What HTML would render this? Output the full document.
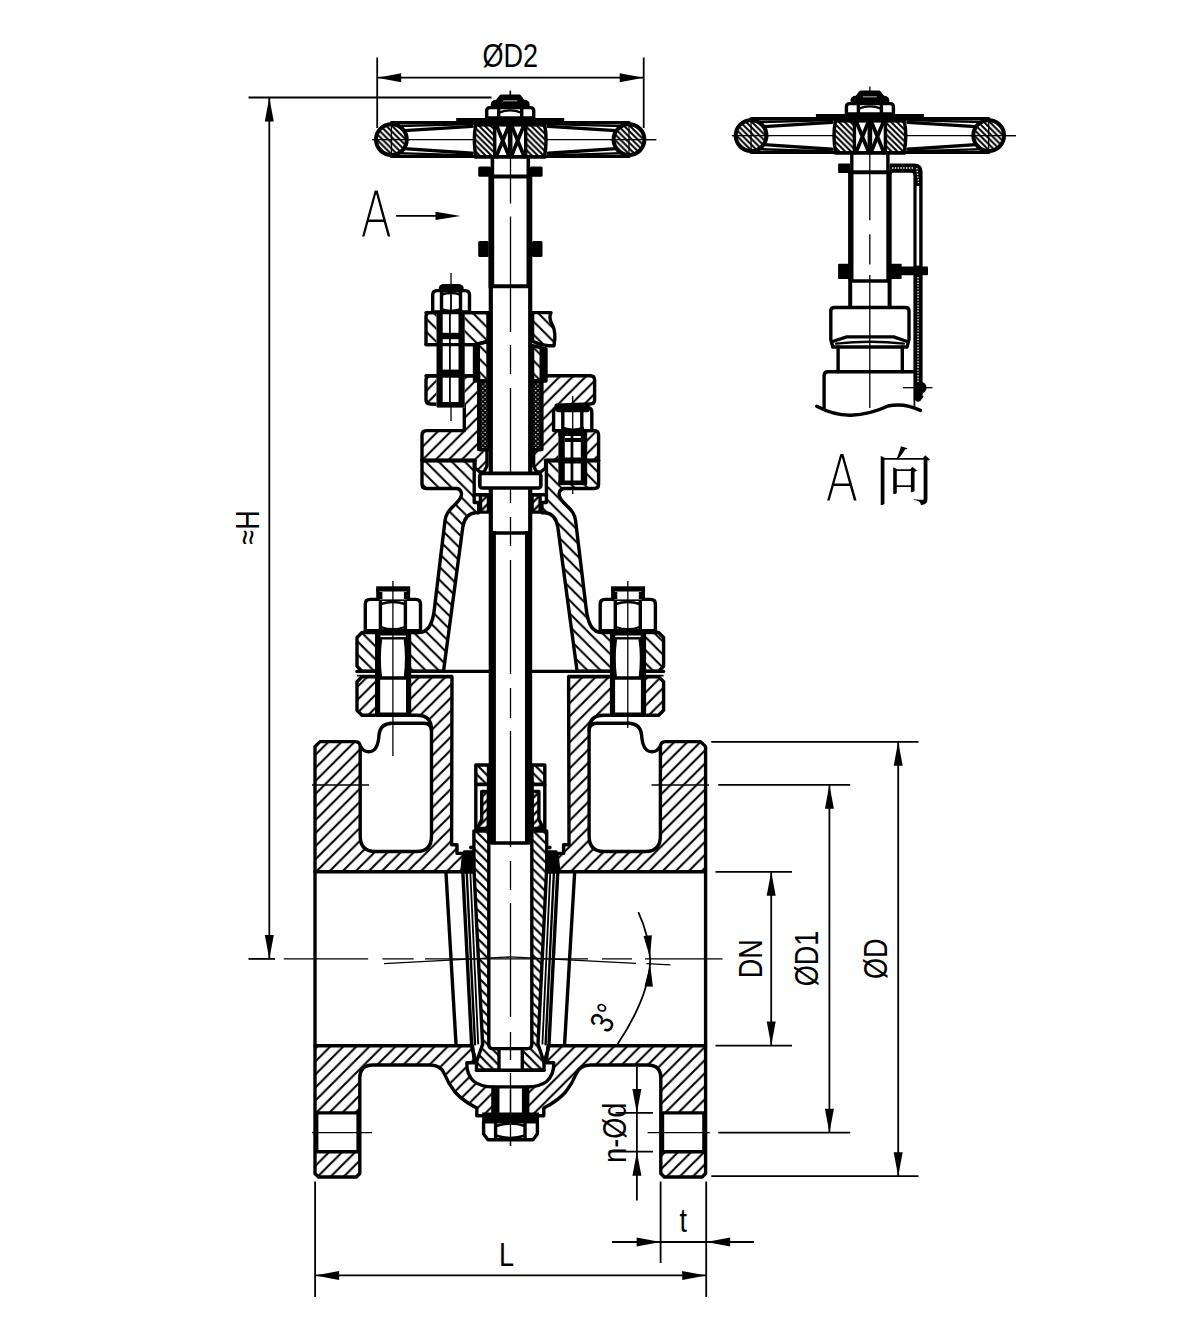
<!DOCTYPE html>
<html><head><meta charset="utf-8"><title>Gate valve drawing</title>
<style>
html,body{margin:0;padding:0;background:#fff;}
svg{display:block}
.k{stroke:#000;stroke-width:3.4;fill:none;stroke-linejoin:round;stroke-linecap:round}
.m{stroke:#000;stroke-width:2.4;fill:none;stroke-linejoin:round;stroke-linecap:round}
.t{stroke:#000;stroke-width:1.8;fill:none;stroke-linecap:butt}
.c{stroke:#000;stroke-width:1.3;fill:none}
.b{stroke:#000;stroke-width:3.4;fill:#000;stroke-linejoin:round}
text{fill:#000}
</style></head><body>
<svg width="1196" height="1319" viewBox="0 0 1196 1319">
<defs>
<pattern id="hF" patternUnits="userSpaceOnUse" width="13.05" height="13.05" patternTransform="translate(0.2,0)">
<path d="M-1,14.05 L14.05,-1 M-1,1 L1,-1 M12.05,14.05 L14.05,12.05" stroke="#000" stroke-width="1.8" fill="none"/></pattern>
<pattern id="hB" patternUnits="userSpaceOnUse" width="13.05" height="13.05" patternTransform="translate(3.2,0)">
<path d="M-1,-1 L14.05,14.05 M-1,12.05 L1,14.05 M12.05,-1 L14.05,1" stroke="#000" stroke-width="2.1" fill="none"/></pattern>
<pattern id="hBf" patternUnits="userSpaceOnUse" width="9.6" height="9.6">
<path d="M-1,-1 L10.6,10.6 M-1,8.6 L1,10.6 M8.6,-1 L10.6,1" stroke="#000" stroke-width="2.2" fill="none"/></pattern>
<pattern id="hFf" patternUnits="userSpaceOnUse" width="8.7" height="8.7">
<path d="M-1,9.7 L9.7,-1 M-1,1 L1,-1 M7.7,9.7 L9.7,7.7" stroke="#000" stroke-width="2.3" fill="none"/></pattern>
<pattern id="hW" patternUnits="userSpaceOnUse" width="5.8" height="5.8">
<path d="M-1,-1 L6.8,6.8 M-1,4.8 L1,6.8 M4.8,-1 L6.8,1" stroke="#000" stroke-width="2.0" fill="none"/></pattern>
<pattern id="dots" patternUnits="userSpaceOnUse" width="4.4" height="4.4">
<rect width="4.4" height="4.4" fill="#000"/><circle cx="1.1" cy="1.1" r="0.75" fill="#fff"/><circle cx="3.3" cy="3.3" r="0.75" fill="#fff"/></pattern>
</defs>
<defs><pattern id="h0" patternUnits="userSpaceOnUse" width="13.05" height="13.05" patternTransform="translate(0.2,0)"><path d="M-1,14.05 L14.05,-1 M-1,1 L1,-1 M12.05,14.05 L14.05,12.05" stroke="#000" stroke-width="2.1" fill="none"/></pattern><pattern id="h1" patternUnits="userSpaceOnUse" width="13.05" height="13.05" patternTransform="translate(6.9,0)"><path d="M-1,14.05 L14.05,-1 M-1,1 L1,-1 M12.05,14.05 L14.05,12.05" stroke="#000" stroke-width="2.1" fill="none"/></pattern><pattern id="h2" patternUnits="userSpaceOnUse" width="13.05" height="13.05" patternTransform="translate(6.55,0)"><path d="M-1,14.05 L14.05,-1 M-1,1 L1,-1 M12.05,14.05 L14.05,12.05" stroke="#000" stroke-width="2.1" fill="none"/></pattern><pattern id="h3" patternUnits="userSpaceOnUse" width="13.05" height="13.05" patternTransform="translate(3.2,0)"><path d="M-1,14.05 L14.05,-1 M-1,1 L1,-1 M12.05,14.05 L14.05,12.05" stroke="#000" stroke-width="2.1" fill="none"/></pattern><pattern id="h4" patternUnits="userSpaceOnUse" width="13.05" height="13.05" patternTransform="translate(3.2,0)"><path d="M-1,-1 L14.05,14.05 M-1,12.05 L1,14.05 M12.05,-1 L14.05,1" stroke="#000" stroke-width="2.1" fill="none"/></pattern><pattern id="h5" patternUnits="userSpaceOnUse" width="13.05" height="13.05" patternTransform="translate(8.4,0)"><path d="M-1,-1 L14.05,14.05 M-1,12.05 L1,14.05 M12.05,-1 L14.05,1" stroke="#000" stroke-width="2.1" fill="none"/></pattern><pattern id="h6" patternUnits="userSpaceOnUse" width="13.05" height="13.05" patternTransform="translate(8.0,0)"><path d="M-1,14.05 L14.05,-1 M-1,1 L1,-1 M12.05,14.05 L14.05,12.05" stroke="#000" stroke-width="2.1" fill="none"/></pattern><pattern id="h7" patternUnits="userSpaceOnUse" width="13.05" height="13.05" patternTransform="translate(9.7,0)"><path d="M-1,14.05 L14.05,-1 M-1,1 L1,-1 M12.05,14.05 L14.05,12.05" stroke="#000" stroke-width="2.1" fill="none"/></pattern></defs>
<rect width="1196" height="1319" fill="#fff"/>
<path class="k" style="fill:url(#h0)" d="M452 676.7 L362 676.7 L357 681.7 L357 710.3 L362 715.3 L417 715.3 Q431.5 715.3 431.5 730 L431.5 836 Q431.5 851.5 417 851.5 L375 851.5 Q360.2 851.5 360.2 836 L360.2 747 Q360.2 741.6 355 741.6 L320 741.6 L315 746.6 L315 871.8 L462 871.8 L463.6 853.4 L457 853.4 L457 844.7 L451.6 844.7 Z" />
<path class="k" style="fill:url(#h1)" d="M 568.6 676.7 L 658.6 676.7 L 663.6 681.7 L 663.6 710.3 L 658.6 715.3 L 603.6 715.3 Q 589.1 715.3 589.1 730 L 589.1 836 Q 589.1 851.5 603.6 851.5 L 645.6 851.5 Q 660.4 851.5 660.4 836 L 660.4 747 Q 660.4 741.6 665.6 741.6 L 700.6 741.6 L 705.6 746.6 L 705.6 871.8 L 558.6 871.8 L 557 853.4 L 563.6 853.4 L 563.6 844.7 L 569 844.7 Z" />
<path class="k" d="M431.5 731 Q431.5 723.2 424 723.2 L391 723.2 Q380 724 379 735 Q378 751.5 369 751.8 Q363.5 751.8 361 747" />
<path class="k" d="M 589.1 731 Q 589.1 723.2 596.6 723.2 L 629.6 723.2 Q 640.6 724 641.6 735 Q 642.6 751.5 651.6 751.8 Q 657.1 751.8 659.6 747" />
<path class="k" style="fill:url(#h2)" d="M315 1045.7 L472.5 1045.7 L474.5 1062.8 L466.8 1062.8 Q466.5 1075 474 1081.5 Q481 1086.9 492.9 1086.9 L492.9 1115.7 L476.8 1115.7 L476.8 1108 Q463 1101 455 1092 Q448 1083 444.5 1074 Q441 1065 430 1065 L373 1065 Q359.8 1065 359.8 1078 L359.8 1173.5 L356.3 1177 L318.5 1177 L315 1173.5 Z" />
<path class="k" style="fill:url(#h3)" d="M 705.6 1045.7 L 548.1 1045.7 L 546.1 1062.8 L 553.8 1062.8 Q 554.1 1075 546.6 1081.5 Q 539.6 1086.9 527.7 1086.9 L 527.7 1115.7 L 543.8 1115.7 L 543.8 1108 Q 557.6 1101 565.6 1092 Q 572.6 1083 576.1 1074 Q 579.6 1065 590.6 1065 L 647.6 1065 Q 660.8 1065 660.8 1078 L 660.8 1173.5 L 664.3 1177 L 702.1 1177 L 705.6 1173.5 Z" />
<rect class="k" style="fill:#fff" x="316.7" y="1112.9" width="41.4" height="38.8"/>
<rect class="k" style="fill:#fff" x="662.50" y="1112.9" width="41.4" height="38.8"/>
<rect x="316.7" y="1110" width="41.4" height="3" fill="#fff" opacity="0"/>
<line class="k" x1="315" y1="871.8" x2="315" y2="1045.7"/>
<line class="k" x1="705.60" y1="871.8" x2="705.60" y2="1045.7"/>
<line class="c" x1="312" y1="785" x2="369" y2="785"/>
<line class="c" x1="651.5" y1="785" x2="709" y2="785"/>
<line class="c" x1="312" y1="1132.6" x2="372" y2="1132.6"/>
<line class="c" x1="647.6" y1="1132.6" x2="709.8" y2="1132.6"/>
<path class="k" style="fill:url(#h4)" d="M443.5 671.2 L362 671.2 L357 666.2 L357 637.5 L362 632.5 L419 632.5 Q432.3 632.5 434.6 607 L445 520.7 C446 513.5 449 510.5 453 506.5 C458 501.5 462.8 497 461.2 492.2 Q460 488.5 456.5 488.5 L426.2 488.5 Q422 488.5 422 484 L422 460.5 L474.2 460.5 L474.2 502.5 L478.7 502.5 L478.7 512.7 L475.5 512.7 Q465 513.5 462.8 527 Z" />
<path class="k" style="fill:url(#h5)" d="M 577.1 671.2 L 658.6 671.2 L 663.6 666.2 L 663.6 637.5 L 658.6 632.5 L 601.6 632.5 Q 588.3 632.5 586 607 L 575.6 520.7 C 574.6 513.5 571.6 510.5 567.6 506.5 C 562.6 501.5 557.8 497 559.4 492.2 Q 560.6 488.5 564.1 488.5 L 594.4 488.5 Q 598.6 488.5 598.6 484 L 598.6 460.5 L 546.4 460.5 L 546.4 502.5 L 541.9 502.5 L 541.9 512.7 L 545.1 512.7 Q 555.6 513.5 557.8 527 Z" />
<line class="k" x1="357" y1="671.4" x2="489" y2="671.4"/>
<line class="k" x1="663.60" y1="671.4" x2="531.60" y2="671.4"/>
<line class="t" x1="357" y1="675.6" x2="452.7" y2="675.6"/>
<line class="t" x1="663.60" y1="675.6" x2="567.90" y2="675.6"/>
<rect x="375.4" y="630.8" width="35.39999999999998" height="86" fill="#fff"/>
<line x1="377.59999999999997" y1="631" x2="377.59999999999997" y2="716" stroke="#000" stroke-width="5.2"/>
<line x1="408.59999999999997" y1="631" x2="408.59999999999997" y2="716" stroke="#000" stroke-width="5.2"/>
<path class="m" d="M380.9 640 Q378.4 658 380.9 677 M404.9 640 Q407.4 658 404.9 677"/>
<rect x="375.4" y="631" width="35.39999999999998" height="8.5" fill="#000"/>
<line x1="380.4" y1="636.3" x2="405.79999999999995" y2="636.3" stroke="#fff" stroke-width="1.6"/>
<line x1="375.4" y1="678" x2="410.79999999999995" y2="678" stroke="#000" stroke-width="3.6"/>
<rect x="375.4" y="712.5" width="35.39999999999998" height="4.5" fill="#000"/>
<path class="k" style="fill:#fff" d="M365.29999999999995 630.7 L365.29999999999995 604 Q365.29999999999995 599.4 370.29999999999995 599.4 L415.5 599.4 Q420.5 599.4 420.5 604 L420.5 630.7 Z"/>
<line class="k" x1="380.4" y1="600" x2="380.4" y2="630"/>
<line class="k" x1="405.4" y1="600" x2="405.4" y2="630"/>
<path class="m" d="M380.9 604 Q392.9 600 404.9 604 M380.9 627 Q392.9 631.5 404.9 627"/>
<path class="k" style="fill:#fff" d="M377.9 599.4 L377.9 589 L408.4 589 L408.4 599.4"/>
<rect x="376.2" y="586.3" width="34" height="5.2" fill="#000"/>
<line x1="379.9" y1="592" x2="379.9" y2="599" stroke="#000" stroke-width="5"/>
<line x1="406.4" y1="592" x2="406.4" y2="599" stroke="#000" stroke-width="5"/>
<line class="c" x1="392.9" y1="581" x2="392.9" y2="756"/>
<rect x="610.3" y="630.8" width="35.39999999999998" height="86" fill="#fff"/>
<line x1="612.5" y1="631" x2="612.5" y2="716" stroke="#000" stroke-width="5.2"/>
<line x1="643.4999999999999" y1="631" x2="643.4999999999999" y2="716" stroke="#000" stroke-width="5.2"/>
<path class="m" d="M615.8 640 Q613.3 658 615.8 677 M639.8 640 Q642.3 658 639.8 677"/>
<rect x="610.3" y="631" width="35.39999999999998" height="8.5" fill="#000"/>
<line x1="615.3" y1="636.3" x2="640.6999999999999" y2="636.3" stroke="#fff" stroke-width="1.6"/>
<line x1="610.3" y1="678" x2="645.6999999999999" y2="678" stroke="#000" stroke-width="3.6"/>
<rect x="610.3" y="712.5" width="35.39999999999998" height="4.5" fill="#000"/>
<path class="k" style="fill:#fff" d="M600.1999999999999 630.7 L600.1999999999999 604 Q600.1999999999999 599.4 605.1999999999999 599.4 L650.4 599.4 Q655.4 599.4 655.4 604 L655.4 630.7 Z"/>
<line class="k" x1="615.3" y1="600" x2="615.3" y2="630"/>
<line class="k" x1="640.3" y1="600" x2="640.3" y2="630"/>
<path class="m" d="M615.8 604 Q627.8 600 639.8 604 M615.8 627 Q627.8 631.5 639.8 627"/>
<path class="k" style="fill:#fff" d="M612.8 599.4 L612.8 589 L643.3 589 L643.3 599.4"/>
<rect x="611.0999999999999" y="586.3" width="34" height="5.2" fill="#000"/>
<line x1="614.8" y1="592" x2="614.8" y2="599" stroke="#000" stroke-width="5"/>
<line x1="641.3" y1="592" x2="641.3" y2="599" stroke="#000" stroke-width="5"/>
<line class="c" x1="627.8" y1="581" x2="627.8" y2="728"/>
<line x1="492.3" y1="531" x2="492.3" y2="843" stroke="#000" stroke-width="7.2"/>
<line x1="528.6" y1="531" x2="528.6" y2="843" stroke="#000" stroke-width="7.2"/>
<line class="k" x1="491.5" y1="843" x2="529" y2="843"/>
<line x1="490.8" y1="288" x2="490.8" y2="531" stroke="#000" stroke-width="4.2"/>
<line x1="530.2" y1="288" x2="530.2" y2="531" stroke="#000" stroke-width="4.2"/>
<line class="k" x1="492" y1="533" x2="528.5" y2="533"/>
<line x1="491.3" y1="176" x2="491.3" y2="288" stroke="#000" stroke-width="5.8"/>
<line x1="529.4" y1="176" x2="529.4" y2="288" stroke="#000" stroke-width="5.8"/>
<line x1="492.4" y1="157" x2="492.4" y2="176" stroke="#000" stroke-width="3.6"/>
<line x1="528.3" y1="157" x2="528.3" y2="176" stroke="#000" stroke-width="3.6"/>
<line x1="490" y1="176.5" x2="531" y2="176.5" stroke="#000" stroke-width="4"/>
<line x1="490" y1="286.2" x2="531" y2="286.2" stroke="#000" stroke-width="4"/>
<rect x="478.2" y="166.5" width="12.8" height="10.2" rx="1.5" fill="#000"/>
<rect x="529.8" y="166.5" width="12.8" height="10.2" rx="1.5" fill="#000"/>
<rect x="478.2" y="241" width="10.5" height="16" rx="1.5" fill="#000"/>
<rect x="532" y="241" width="10.5" height="16" rx="1.5" fill="#000"/>
<line class="c" x1="510.5" y1="91" x2="510.5" y2="203.5"/>
<line class="c" x1="510.5" y1="216.5" x2="510.5" y2="332"/>
<line class="c" x1="510.5" y1="345" x2="510.5" y2="374"/>
<line class="c" x1="510.5" y1="388" x2="510.5" y2="503"/>
<line class="c" x1="510.5" y1="517" x2="510.5" y2="546"/>
<line class="c" x1="510.5" y1="560" x2="510.5" y2="674"/>
<line class="c" x1="510.5" y1="688" x2="510.5" y2="718"/>
<line class="c" x1="510.5" y1="731" x2="510.5" y2="847"/>
<line class="c" x1="510.5" y1="861" x2="510.5" y2="890"/>
<line class="c" x1="510.5" y1="903" x2="510.5" y2="1017"/>
<line class="c" x1="510.5" y1="1032" x2="510.5" y2="1060"/>
<line class="c" x1="510.5" y1="1073" x2="510.5" y2="1146"/>
<path class="k" style="fill:url(#h6)" d="M478.7 375.7 L430.2 375.7 Q426 375.7 426 380 L426 400 Q426 404 430.2 404 L464.3 405.2 L464.3 430.6 L426.2 430.6 Q422 430.6 422 435 L422 460.5 L475 460.5 L475 468 L480 472 L484 472 L487 466 L487 449.6 L478.7 449.6 Z" />
<path class="k" style="fill:url(#h7)" d="M 541.9 375.7 L 590.4 375.7 Q 594.6 375.7 594.6 380 L 594.6 400 Q 594.6 404 590.4 404 L 556.3 405.2 L 556.3 430.6 L 594.4 430.6 Q 598.6 430.6 598.6 435 L 598.6 460.5 L 545.6 460.5 L 545.6 468 L 540.6 472 L 536.6 472 L 533.6 466 L 533.6 449.6 L 541.9 449.6 Z" />
<rect class="k" style="fill:url(#dots)" x="479.5" y="381" width="9" height="68.6"/>
<rect class="k" style="fill:url(#dots)" x="532.10" y="381" width="9" height="68.6"/>
<rect class="k" style="fill:#fff;stroke-width:3.7" x="479.8" y="473.3" width="61" height="14.7" rx="2.5"/>
<rect class="k" style="fill:url(#hFf)" x="480.5" y="494.8" width="8" height="17.3"/>
<rect class="k" style="fill:url(#hFf)" x="532.10" y="494.8" width="8" height="17.3"/>
<line class="k" x1="474.2" y1="494.8" x2="489" y2="494.8"/>
<line class="k" x1="546.40" y1="494.8" x2="531.60" y2="494.8"/>
<path class="k" style="fill:url(#hB)" d="M474.5 344.6 L474.5 381 L488 381 L488 341.5 Z" />
<path class="k" style="fill:url(#hB)" d="M546 349 L546 381 L532.6 381 L532.6 345.7 Z" />
<line x1="476.5" y1="345" x2="476.5" y2="380" stroke="#000" stroke-width="7"/>
<line x1="543" y1="349" x2="543" y2="380" stroke="#000" stroke-width="7"/>
<path class="k" style="fill:url(#hB)" d="M430 312.6 L488 312.6 L488 341.5 L474.5 344.6 L426 344.6 L426 316.4 Q426 312.6 430 312.6 Z" />
<path class="k" style="fill:url(#hB)" d="M532.6 312.6 L551 312.6 Q548.5 318 552 324 Q556.5 332 554 345.7 L548.6 345.7 Q540 345 532.6 341.2 Z" />
<rect x="436.4" y="309" width="28.2" height="98.5" fill="#fff"/>
<line x1="439.6" y1="311" x2="439.6" y2="407" stroke="#000" stroke-width="6.2"/>
<line x1="461.6" y1="311" x2="461.6" y2="407" stroke="#000" stroke-width="6.2"/>
<line class="t" x1="449.9" y1="311" x2="449.9" y2="407"/>
<rect x="437" y="332.8" width="27" height="6.4" fill="#000"/>
<rect x="437" y="369.6" width="27" height="7.8" fill="#000"/>
<rect x="437" y="402" width="27" height="5.6" fill="#000"/>
<line class="k" x1="426" y1="312.6" x2="488" y2="312.6"/>
<line class="k" x1="426" y1="344.6" x2="474" y2="344.6"/>
<line class="k" x1="426" y1="375.7" x2="478" y2="375.7"/>
<path class="k" style="fill:#fff" d="M432.7 312 L432.7 295 Q432.7 290.6 437 290.6 L465.3 290.6 Q469.5 290.6 469.5 295 L469.5 312 Z"/>
<line class="k" x1="441.5" y1="291" x2="441.5" y2="312"/>
<line class="k" x1="460.5" y1="291" x2="460.5" y2="312"/>
<line class="t" x1="451" y1="291" x2="451" y2="312"/>
<path class="m" d="M442 294.5 Q451 291.5 460 294.5 M442 309.5 Q451 312.5 460 309.5"/>
<path class="k" style="fill:#000" d="M440.5 290.6 L440.5 288 Q441 285.8 444 285.8 L458 285.8 Q461.5 285.8 462 288 L462 290.6 Z"/>
<line class="c" x1="451" y1="273" x2="451" y2="285"/>
<line class="c" x1="451" y1="407" x2="451" y2="421"/>
<rect x="558.4" y="429" width="28.6" height="55" fill="#fff"/>
<line x1="561.6" y1="430" x2="561.6" y2="484" stroke="#000" stroke-width="6.4"/>
<line x1="584" y1="430" x2="584" y2="484" stroke="#000" stroke-width="6.4"/>
<line class="t" x1="571.5" y1="432" x2="571.5" y2="484"/>
<rect x="558.4" y="431" width="28.6" height="5" fill="#000"/>
<rect x="565" y="438" width="16" height="4" fill="#000"/>
<rect x="558.4" y="457.5" width="28.6" height="6" fill="#000"/>
<rect x="558.4" y="480.5" width="28.6" height="4.6" fill="#000"/>
<path class="k" style="fill:#fff" d="M553.6 430.6 L553.6 412 Q553.6 408 557 408 L588 408 Q591.8 408 591.8 412 L591.8 430.6 Z"/>
<rect x="556" y="404.3" width="33.5" height="8" rx="2" fill="#000"/>
<line class="k" x1="562.8" y1="410" x2="562.8" y2="430"/>
<line class="k" x1="581.8" y1="410" x2="581.8" y2="430"/>
<path class="m" d="M563 428 Q573 431.5 583 428"/>
<line class="c" x1="572.7" y1="396" x2="572.7" y2="494"/>
<line class="k" x1="422" y1="460.5" x2="475" y2="460.5"/>
<line class="k" x1="598.60" y1="460.5" x2="545.60" y2="460.5"/>
<g transform="translate(510.2,139.6)">
<line class="c" x1="-138" y1="0" x2="146" y2="0"/>
<path class="k" d="M-118.8 -16.8 L118.8 -16.8 M-118.8 16.8 L118.8 16.8"/>
<path class="k" d="M-106 -9 L-38 -13.2 M-106 9 L-38 13.6 M106 -9 L38 -13.2 M106 9 L38 13.6"/>
<path class="m" d="M-112 -13.5 L-38 -15.5 M-112 13.5 L-38 15.8 M112 -13.5 L38 -15.5 M112 13.5 L38 15.8"/>
<circle cx="-118.8" cy="0" r="15.4" style="fill:#fff;stroke-width:4" class="k"/>
<circle cx="-118.8" cy="0" r="14" fill="url(#hW)"/>
<line class="c" x1="-118.8" y1="-16" x2="-118.8" y2="16"/>
<circle cx="118.8" cy="0" r="15.4" style="fill:#fff;stroke-width:4" class="k"/>
<circle cx="118.8" cy="0" r="14" fill="url(#hW)"/>
<line class="c" x1="118.8" y1="-16" x2="118.8" y2="16"/>
<line class="c" x1="-138" y1="0" x2="-100" y2="0"/><line class="c" x1="100" y1="0" x2="146" y2="0"/>
<path class="k" style="fill:#fff" d="M-34.2 -16 Q-37.6 0 -34.2 17.3 L34.2 17.3 Q37.6 0 34.2 -16 Z"/>
<path d="M-33.4 -15 Q-36.8 0 -33.4 16.5 L-15.5 16.5 L-15.5 -15 Z" fill="url(#hW)"/>
<path d="M33.4 -15 Q36.8 0 33.4 16.5 L15.5 16.5 L15.5 -15 Z" fill="url(#hW)"/>
<path class="k" d="M-15.5 -15 L-15.5 17 M15.5 -15 L15.5 17"/>
<path class="k" style="stroke-width:3.8" d="M-14 -15 L-1 17 M1 17 L14 -15 M-14 17 L-1 -15 M1 -15 L14 17"/>
<line x1="0" y1="-15" x2="0" y2="17" stroke="#000" stroke-width="4.6"/>
<rect x="-54" y="-21.6" width="108" height="6.6" fill="#000"/>
<rect x="-36" y="-16" width="72" height="3" fill="#000"/>
<rect x="-36" y="15.5" width="72" height="3.4" fill="#000"/>
<path class="k" style="fill:#fff" d="M-23.5 -21.6 L-23.5 -29 Q-23.5 -32 -20 -32 L20 -32 Q23.5 -32 23.5 -29 L23.5 -21.6 Z"/>
<path class="k" d="M-11.5 -31 L-11.5 -22 M11.5 -31 L11.5 -22"/>
<path class="m" d="M-11 -27 Q0 -31.5 11 -27"/>
<path class="k" style="fill:#000" d="M-17.5 -33 Q-19 -38.5 -13 -38.5 L-9 -43.5 L9 -43.5 L13 -38.5 Q19 -38.5 17.5 -33 Z"/>
<line x1="-7" y1="-38.8" x2="7" y2="-38.8" stroke="#999" stroke-width="1.2"/>
<line class="c" x1="0" y1="-49" x2="0" y2="-43"/>
</g>
<g transform="translate(869.9,135.6)">
<line class="c" x1="-138" y1="0" x2="146" y2="0"/>
<path class="k" d="M-118.8 -16.8 L118.8 -16.8 M-118.8 16.8 L118.8 16.8"/>
<path class="k" d="M-106 -9 L-38 -13.2 M-106 9 L-38 13.6 M106 -9 L38 -13.2 M106 9 L38 13.6"/>
<path class="m" d="M-112 -13.5 L-38 -15.5 M-112 13.5 L-38 15.8 M112 -13.5 L38 -15.5 M112 13.5 L38 15.8"/>
<circle cx="-118.8" cy="0" r="15.4" style="fill:#fff;stroke-width:4" class="k"/>
<circle cx="-118.8" cy="0" r="14" fill="url(#hW)"/>
<line class="c" x1="-118.8" y1="-16" x2="-118.8" y2="16"/>
<circle cx="118.8" cy="0" r="15.4" style="fill:#fff;stroke-width:4" class="k"/>
<circle cx="118.8" cy="0" r="14" fill="url(#hW)"/>
<line class="c" x1="118.8" y1="-16" x2="118.8" y2="16"/>
<line class="c" x1="-138" y1="0" x2="-100" y2="0"/><line class="c" x1="100" y1="0" x2="146" y2="0"/>
<path class="k" style="fill:#fff" d="M-34.2 -16 Q-37.6 0 -34.2 17.3 L34.2 17.3 Q37.6 0 34.2 -16 Z"/>
<path d="M-33.4 -15 Q-36.8 0 -33.4 16.5 L-15.5 16.5 L-15.5 -15 Z" fill="url(#hW)"/>
<path d="M33.4 -15 Q36.8 0 33.4 16.5 L15.5 16.5 L15.5 -15 Z" fill="url(#hW)"/>
<path class="k" d="M-15.5 -15 L-15.5 17 M15.5 -15 L15.5 17"/>
<path class="k" style="stroke-width:3.8" d="M-14 -15 L-1 17 M1 17 L14 -15 M-14 17 L-1 -15 M1 -15 L14 17"/>
<line x1="0" y1="-15" x2="0" y2="17" stroke="#000" stroke-width="4.6"/>
<rect x="-54" y="-21.6" width="108" height="6.6" fill="#000"/>
<rect x="-36" y="-16" width="72" height="3" fill="#000"/>
<rect x="-36" y="15.5" width="72" height="3.4" fill="#000"/>
<path class="k" style="fill:#fff" d="M-23.5 -21.6 L-23.5 -29 Q-23.5 -32 -20 -32 L20 -32 Q23.5 -32 23.5 -29 L23.5 -21.6 Z"/>
<path class="k" d="M-11.5 -31 L-11.5 -22 M11.5 -31 L11.5 -22"/>
<path class="m" d="M-11 -27 Q0 -31.5 11 -27"/>
<path class="k" style="fill:#000" d="M-17.5 -33 Q-19 -38.5 -13 -38.5 L-9 -43.5 L9 -43.5 L13 -38.5 Q19 -38.5 17.5 -33 Z"/>
<line x1="-7" y1="-38.8" x2="7" y2="-38.8" stroke="#999" stroke-width="1.2"/>
<line class="c" x1="0" y1="-49" x2="0" y2="-43"/>
</g>
<path class="k" style="fill:url(#hBf)" d="M475.8 765 L488.5 765 L488.5 784.5 L475.8 784.5 Z" />
<path class="k" style="fill:url(#hBf)" d="M 544.8 765 L 532.1 765 L 532.1 784.5 L 544.8 784.5 Z" />
<path class="k" style="fill:#fff" d="M475.8 784.5 L475.8 829.8 L488.5 829.8 L488.5 784.5 Z" />
<path class="k" style="fill:#fff" d="M 544.8 784.5 L 544.8 829.8 L 532.1 829.8 L 532.1 784.5 Z" />
<path class="k" style="fill:url(#hFf)" d="M481.7 791.5 L488.5 791.5 L488.5 828.5 L477.2 828.5 L481.7 819.4 Z" />
<path class="k" style="fill:url(#hFf)" d="M 538.9 791.5 L 532.1 791.5 L 532.1 828.5 L 543.4 828.5 L 538.9 819.4 Z" />
<path class="k" style="fill:url(#hBf)" d="M473.9 831 L488.8 831 L488.8 1044 Q488.8 1048.6 493 1048.6 L499 1048.6 L499 1070.3 L476.5 1070.3 L476.5 1062 L482.6 1044.4 L473.9 868 Z" />
<path class="k" style="fill:url(#hBf)" d="M546.7 831 L531.8 831 L531.8 1044 Q531.8 1048.6 527.6 1048.6 L522.3 1048.6 L522.3 1070.3 L544 1070.3 L544 1062 L538 1044.4 L546.7 868 Z" />
<line class="k" x1="476.5" y1="1070.3" x2="544" y2="1070.3"/>
<line class="k" x1="493" y1="1048.6" x2="527.6" y2="1048.6"/>
<path class="k" d="M462.8 871.7 L471.6 1044.4 L472.6 1050 L476.5 1062" />
<path class="k" d="M 557.8 871.7 L 549 1044.4 L 548 1050 L 544.1 1062" />
<path class="m" d="M466.2 862 L475 1044.4" />
<path class="m" d="M 554.4 862 L 545.6 1044.4" />
<path class="t" d="M469.4 852 L478.2 1044.4" />
<path class="t" d="M 551.2 852 L 542.4 1044.4" />
<path class="b" d="M464.6 852 L473.3 852 L473.7 872 L462 872 Z" />
<path class="b" d="M 556 852 L 547.3 852 L 546.9 872 L 558.6 872 Z" />
<circle cx="471" cy="847.6" r="2" fill="#000"/><circle cx="549.6" cy="847.6" r="2" fill="#000"/>
<path class="k" d="M446 873 L456 1044" />
<path class="k" d="M 574.6 873 L 564.6 1044" />
<path class="k" d="M492.9 1086.9 L527.7 1086.9"/>
<line x1="496.2" y1="1087" x2="496.2" y2="1116" stroke="#000" stroke-width="6.6"/>
<line x1="525.2" y1="1087" x2="525.2" y2="1116" stroke="#000" stroke-width="6.6"/>
<rect x="482.2" y="1112.5" width="56.8" height="9.2" fill="#000"/>
<path class="k" style="fill:#fff" d="M483.6 1121.7 L483.6 1134 L488 1139.7 L533 1139.7 L537.4 1134 L537.4 1121.7 Z"/>
<line class="k" x1="495.6" y1="1122" x2="495.6" y2="1139"/>
<line class="k" x1="525" y1="1122" x2="525" y2="1139"/>
<path class="m" d="M496 1126 Q510 1121 525 1126 M496 1135.5 Q510 1140.5 525 1135.5"/>
<line class="c" x1="510.5" y1="1090" x2="510.5" y2="1146"/>
<line class="c" x1="283.7" y1="958.9" x2="722.6" y2="958.9" stroke-dasharray="84.5 14.2 31.3 11.3 163 14 30 13 80"/>
<path class="c" d="M384 963.6 L510 956.8 L636 963.4 M646.4 963.6 L670.4 964.8"/>
<line class="t" x1="377.2" y1="57.5" x2="377.2" y2="128"/>
<line class="t" x1="643.7" y1="57.5" x2="643.7" y2="128"/>
<line class="t" x1="377.2" y1="77.7" x2="643.7" y2="77.7"/>
<polygon fill="#000" points="377.2,77.7 401.2,73.2 401.2,82.2"/>
<polygon fill="#000" points="643.7,77.7 619.7,82.2 619.7,73.2"/>
<text transform="translate(510.3,66.7) scale(0.82,1)" font-size="33" text-anchor="middle" font-family='"Liberation Sans", sans-serif' >ØD2</text>
<line class="t" x1="248.5" y1="97.5" x2="491.5" y2="97.5"/>
<line class="t" x1="269.3" y1="97.5" x2="269.3" y2="958.9"/>
<polygon fill="#000" points="269.3,97.5 273.8,121.5 264.8,121.5"/>
<polygon fill="#000" points="269.3,958.9 264.8,934.9 273.8,934.9"/>
<line class="t" x1="248.5" y1="958.9" x2="275" y2="958.9"/>
<text transform="translate(258.8,527.5) rotate(-90) scale(0.82,1)" font-size="33" text-anchor="middle" font-family='"Liberation Sans", sans-serif' >≈H</text>
<line class="t" x1="715.5" y1="871.8" x2="792" y2="871.8"/>
<line class="t" x1="715.5" y1="1045.6" x2="792" y2="1045.6"/>
<line class="t" x1="771.2" y1="871.8" x2="771.2" y2="1045.6"/>
<polygon fill="#000" points="771.2,871.8 775.7,895.8 766.7,895.8"/>
<polygon fill="#000" points="771.2,1045.6 766.7,1021.6 775.7,1021.6"/>
<text transform="translate(762,958.8) rotate(-90) scale(0.82,1)" font-size="33" text-anchor="middle" font-family='"Liberation Sans", sans-serif' >DN</text>
<line class="t" x1="718.3" y1="784.8" x2="850.2" y2="784.8"/>
<line class="t" x1="718.3" y1="1132.7" x2="850.2" y2="1132.7"/>
<line class="t" x1="829.4" y1="784.8" x2="829.4" y2="1132.7"/>
<polygon fill="#000" points="829.4,784.8 833.9,808.8 824.9,808.8"/>
<polygon fill="#000" points="829.4,1132.7 824.9,1108.7 833.9,1108.7"/>
<text transform="translate(817.5,958.5) rotate(-90) scale(0.82,1)" font-size="33" text-anchor="middle" font-family='"Liberation Sans", sans-serif' >ØD1</text>
<line class="t" x1="711.3" y1="741.8" x2="918.5" y2="741.8"/>
<line class="t" x1="711.3" y1="1176.2" x2="918.5" y2="1176.2"/>
<line class="t" x1="898.2" y1="741.8" x2="898.2" y2="1176.2"/>
<polygon fill="#000" points="898.2,741.8 902.7,765.8 893.7,765.8"/>
<polygon fill="#000" points="898.2,1176.2 893.7,1152.2 902.7,1152.2"/>
<text transform="translate(886.5,958.8) rotate(-90) scale(0.82,1)" font-size="33" text-anchor="middle" font-family='"Liberation Sans", sans-serif' >ØD</text>
<line class="t" x1="315.1" y1="1181.5" x2="315.1" y2="1297"/>
<line class="t" x1="706.2" y1="1181.5" x2="706.2" y2="1297"/>
<line class="t" x1="315.1" y1="1275.4" x2="706.2" y2="1275.4"/>
<polygon fill="#000" points="315.1,1275.4 339.1,1270.9 339.1,1279.9"/>
<polygon fill="#000" points="706.2,1275.4 682.2,1279.9 682.2,1270.9"/>
<text transform="translate(506.5,1265.8) scale(0.82,1)" font-size="33" text-anchor="middle" font-family='"Liberation Sans", sans-serif' >L</text>
<line class="t" x1="660.6" y1="1181.5" x2="660.6" y2="1263"/>
<line class="t" x1="612" y1="1242" x2="754" y2="1242"/>
<polygon fill="#000" points="660.6,1242.0 636.6,1246.5 636.6,1237.5"/>
<polygon fill="#000" points="706.2,1242.0 730.2,1237.5 730.2,1246.5"/>
<text transform="translate(683.2,1231.5) scale(0.82,1)" font-size="33" text-anchor="middle" font-family='"Liberation Sans", sans-serif' >t</text>
<line class="t" x1="636.9" y1="1066.5" x2="636.9" y2="1200.5"/>
<polygon fill="#000" points="636.9,1112.9 632.4,1088.9 641.4,1088.9"/>
<polygon fill="#000" points="636.9,1151.7 641.4,1175.7 632.4,1175.7"/>
<line class="t" x1="615.5" y1="1112.9" x2="653" y2="1112.9"/>
<line class="t" x1="608.8" y1="1151.7" x2="653" y2="1151.7"/>
<text transform="translate(625.6,1132.8) rotate(-90) scale(0.82,1)" font-size="33" text-anchor="middle" font-family='"Liberation Sans", sans-serif' >n-Ød</text>
<path class="t" d="M638.3 912.2 Q649 935 650.2 960 Q649.5 996 617.3 1044.6"/>
<polygon fill="#000" points="650.0,957.5 643.5,936.1 651.9,935.2"/>
<polygon fill="#000" points="650.2,964.5 652.9,986.7 644.5,986.2"/>
<text transform="translate(614.5,1023) rotate(-62) scale(0.82,1)" font-size="33" text-anchor="middle" font-family='"Liberation Sans", sans-serif' >3°</text>
<line class="t" x1="396.2" y1="215.9" x2="440" y2="215.9"/>
<polygon fill="#000" points="460.5,215.9 435.5,220.1 435.5,211.7"/>
<line x1="851.8" y1="153" x2="851.8" y2="172" stroke="#000" stroke-width="3.4"/>
<line x1="887.9" y1="153" x2="887.9" y2="172" stroke="#000" stroke-width="3.4"/>
<line x1="848" y1="172.2" x2="892" y2="172.2" stroke="#000" stroke-width="4"/>
<line x1="850.8" y1="172" x2="850.8" y2="281" stroke="#000" stroke-width="5.4"/>
<line x1="889" y1="172" x2="889" y2="281" stroke="#000" stroke-width="5.4"/>
<line x1="849" y1="281" x2="891" y2="281" stroke="#000" stroke-width="3.6"/>
<line x1="850.2" y1="281" x2="850.2" y2="307.5" stroke="#000" stroke-width="4"/>
<line x1="889.6" y1="281" x2="889.6" y2="307.5" stroke="#000" stroke-width="4"/>
<rect x="838.1" y="163.4" width="12" height="9.6" rx="1" fill="#000"/>
<rect x="838.1" y="263.7" width="11" height="15.4" rx="1" fill="#000"/>
<rect x="891" y="263.7" width="10.7" height="15.4" rx="1" fill="#000"/>
<rect x="901" y="266.4" width="27" height="8.8" rx="1" fill="#000"/>
<path d="M889.6 163.4 L914 163.4 Q922.6 163.4 922.6 172 L922.6 398 L913.4 398 L913.4 175 Q913.4 172.8 911 172.8 L889.6 172.8 Z" fill="#000"/>
<rect x="916.6" y="186" width="2.6" height="79.6" fill="#fff"/>
<path d="M892 168 L913 168 M916.8 168 L918.5 183 M918 277 L918 392" stroke="#fff" stroke-width="1.3" stroke-dasharray="1.4 1.4" fill="none"/>
<circle cx="920.6" cy="387.7" r="6" fill="#000"/>
<path d="M915 398 Q918 404 922 397 Z" fill="#000" stroke="#000" stroke-width="2"/>
<line class="c" x1="903" y1="387.7" x2="932.5" y2="387.7"/>
<line class="t" x1="914.4" y1="398" x2="914.4" y2="408"/>
<path class="k" d="M834.5 307.5 L905.4 307.5 Q909 307.5 909 311 L909 339.6 L907 347 L832.8 347 L830.8 339.6 L830.8 311 Q830.8 307.5 834.5 307.5 Z"/>
<path class="k" d="M832.5 341.5 L846.8 336.9 L893.6 336.9 L907.2 341.5"/>
<path class="m" d="M836 343.6 Q870 340 904 343.6"/>
<path class="k" d="M838.1 347 L838.1 371.7 M902.3 347 L902.3 371.7"/>
<path class="k" d="M914.4 371.7 L828 371.7 Q824.1 371.7 824.1 375.5 L824.1 409"/>
<path class="k" d="M816.7 406.3 Q834 415.5 851 415.2 Q870 414.5 888 406 Q904 402.5 920.4 410.4"/>
<line class="c" x1="869.8" y1="153" x2="869.8" y2="220.3"/>
<line class="c" x1="869.8" y1="234.3" x2="869.8" y2="264.4"/>
<line class="c" x1="869.8" y1="275" x2="869.8" y2="408"/>
<text transform="translate(376.3,235.7) scale(0.72,1)" font-size="63" text-anchor="middle" font-family='"DejaVu Sans Light","DejaVu Sans","Liberation Sans",sans-serif' font-weight="200">A</text>
<text transform="translate(842,501) scale(0.74,1)" font-size="64" text-anchor="middle" font-family='"DejaVu Sans Light","DejaVu Sans","Liberation Sans",sans-serif' font-weight="200">A</text>
<text transform="translate(904,498.5) scale(0.93,1)" font-size="63" text-anchor="middle" font-family='"Liberation Serif","Noto Serif CJK SC",serif'>向</text>
</svg>
</body></html>
